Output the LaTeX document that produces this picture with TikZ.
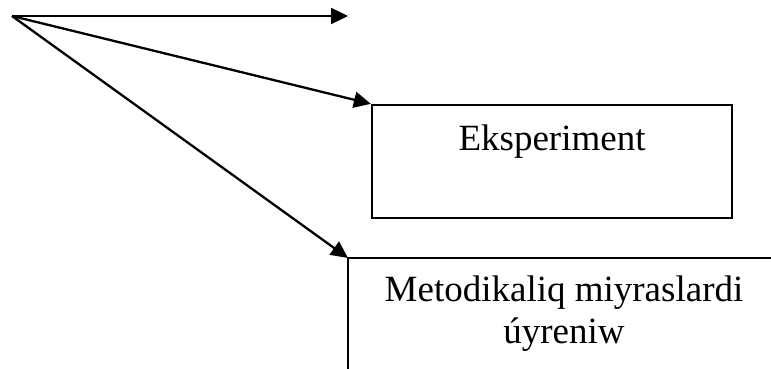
\documentclass[tikz,border=0pt]{standalone}
\usepackage{fontspec}
\setmainfont{Liberation Serif}
\usetikzlibrary{arrows.meta}
\tikzset{
  conn/.style={line width=2.3pt, -{Triangle[length=17pt,width=16pt]}},
  frame/.style={line width=2.3pt},
  label/.style={font=\fontsize{37}{42}\selectfont, inner sep=0pt, align=center},
}
\begin{document}
\begin{tikzpicture}[x=1pt, y=-1pt]
  \useasboundingbox (0,0) rectangle (771,369);
  \clip (0,0) rectangle (771,369);
  % fan of arrows from a common start
  \coordinate (src) at (12,16);
  \coordinate (topend) at (348,16);
  % Eksperiment box
  \node[frame, draw, minimum width=360pt, minimum height=113pt, inner sep=0pt] (exp) at (552,161.5) {};
  \node[label, anchor=base] (explabel) at (552,150) {Eksperiment};
  % Metodikaliq box (runs off the page to the right and below)
  \coordinate (meth) at (348,258);
  \draw[frame] (790,258) -- (meth) -- (348,390);
  \node[label, anchor=base] (methlabel) at (564,343) {Metodikaliq miyraslardi\\úyreniw};
  % connectors
  \draw[conn] (src) -- (topend);
  \draw[conn] (src) -- (exp.north west);
  \draw[conn] (src) -- (meth);
\end{tikzpicture}
\end{document}
